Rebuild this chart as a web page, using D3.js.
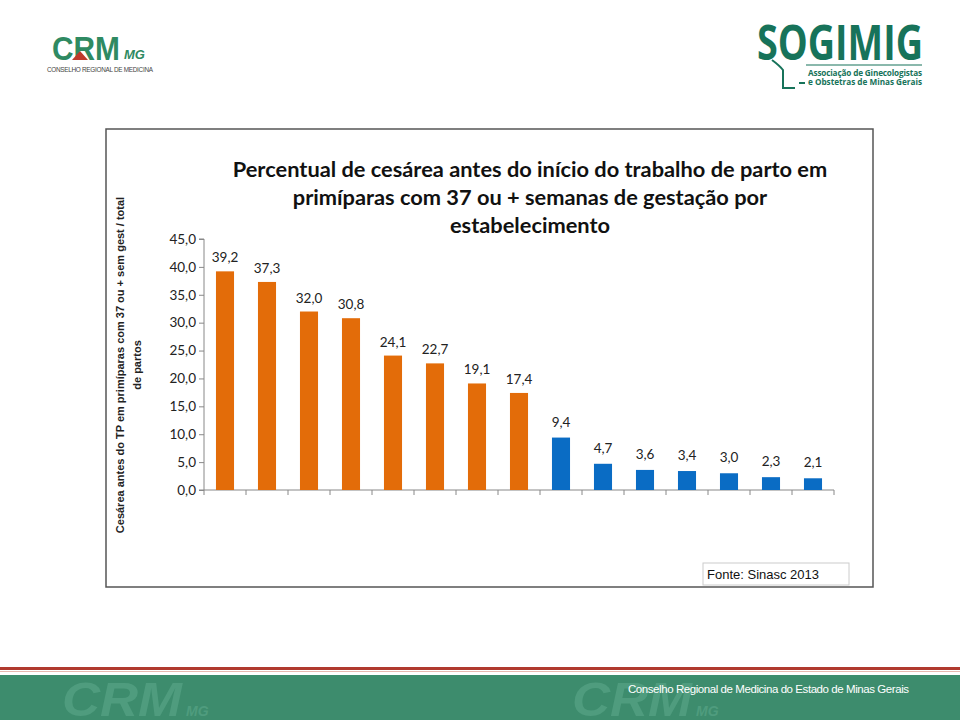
<!DOCTYPE html>
<html><head><meta charset="utf-8">
<script src="https://cdn.jsdelivr.net/npm/d3@7"></script>
<style>body{margin:0;background:#fff}svg{display:block}</style>
</head><body>
<script>
const categories = ["1","2","3","4","5","6","7","8","9","10","11","12","13","14","15"];
const values = [39.2,37.3,32.0,30.8,24.1,22.7,19.1,17.4,9.4,4.7,3.6,3.4,3.0,2.3,2.1];
const groups = ["o","o","o","o","o","o","o","o","b","b","b","b","b","b","b"];
const yTicks = [0,5,10,15,20,25,30,35,40,45];
const titleLines = ["Percentual de cesárea antes do início do trabalho de parto em","primíparas com 37 ou + semanas de gestação por","estabelecimento"];
const yLabelLines = ["Cesárea antes do TP em  primíparas com 37 ou + sem gest / total","de partos"];

const W=960,H=720;
const svg=d3.select("body").append("svg").attr("width",W).attr("height",H);
const fmt = v => d3.format(".1f")(v).replace(".",",");

// header logos (text approximations)
const crm=svg.append("g");
crm.append("text").attr("x",52).attr("y",60).attr("font-family","Liberation Sans, Arial").attr("font-weight","bold").attr("font-size",33).attr("fill","#2f8a62").attr("textLength",68).attr("lengthAdjust","spacingAndGlyphs").text("CRM");
crm.append("path").attr("d","M72,60 L80,51 L88,60 Z").attr("fill","#c0392b");
crm.append("text").attr("x",124).attr("y",59).attr("font-family","Liberation Sans, Arial").attr("font-weight","bold").attr("font-style","italic").attr("font-size",13).attr("fill","#2f8a62").text("MG");
crm.append("text").attr("x",47).attr("y",72).attr("font-family","Liberation Sans, Arial").attr("font-size",6.4).attr("fill","#444").attr("textLength",106).text("CONSELHO REGIONAL DE MEDICINA");

const sog=svg.append("g");
sog.append("text").attr("x",757).attr("y",60).attr("font-family","Open Sans, Liberation Sans").attr("font-weight","bold").attr("font-size",48).attr("fill","#17735a").attr("textLength",166).attr("lengthAdjust","spacingAndGlyphs").text("SOGIMIG");
sog.append("line").attr("x1",806).attr("x2",922).attr("y1",65).attr("y2",65).attr("stroke","#17735a").attr("stroke-width",1.2);
sog.append("text").attr("x",808).attr("y",76).attr("font-family","Open Sans, Liberation Sans").attr("font-weight","bold").attr("font-size",8.2).attr("fill","#17735a").attr("textLength",114).text("Associação de Ginecologistas");
sog.append("text").attr("x",808).attr("y",85).attr("font-family","Open Sans, Liberation Sans").attr("font-weight","bold").attr("font-size",8.2).attr("fill","#17735a").attr("textLength",114).text("e Obstetras de Minas Gerais");
sog.append("path").attr("d","M772,60 Q780,66 783,70 L783,88 L795,88 M799,83 L805,83").attr("stroke","#17735a").attr("stroke-width",2).attr("fill","none");

// chart frame
svg.append("rect").attr("x",106).attr("y",129).attr("width",767).attr("height",458).attr("fill","#fff").attr("stroke","#555").attr("stroke-width",1.5);

// title
const tt=svg.append("text").attr("text-anchor","middle").attr("font-family","Lato, Open Sans, sans-serif").attr("font-weight","bold").attr("font-size",21.8).attr("fill","#111");
titleLines.forEach((l,i)=>tt.append("tspan").attr("x",530).attr("y",177+i*28).text(l));

// scales
const x=d3.scaleBand().domain(categories).range([204,834]).paddingInner(0.57).paddingOuter(0.285);
const y=d3.scaleLinear().domain([0,45]).range([490,239]);

// y axis
const ya=svg.append("g").attr("transform","translate(204,0)").call(d3.axisLeft(y).tickValues(yTicks).tickSize(5).tickFormat(fmt));
ya.select(".domain").attr("stroke","#888").attr("d","M-5,239H0V490H-5");
ya.selectAll(".tick line").attr("stroke","#888");
ya.selectAll(".tick text").attr("font-family","Lato, Open Sans, sans-serif").attr("font-size",13.5).attr("fill","#222").attr("x",-8);

// x axis
const xTickPos = categories.map(c=>x(c)-x.step()*x.paddingInner()/2).concat([834]);
svg.append("line").attr("x1",204).attr("x2",834).attr("y1",490).attr("y2",490).attr("stroke","#888");
svg.selectAll(".xt").data(xTickPos).enter().append("line").attr("x1",d=>d).attr("x2",d=>d).attr("y1",490).attr("y2",495).attr("stroke","#888");

// bars
svg.selectAll(".bar").data(values).enter().append("rect")
 .attr("x",(d,i)=>x(categories[i])).attr("width",x.bandwidth())
 .attr("y",d=>y(d)).attr("height",d=>y(0)-y(d))
 .attr("fill",(d,i)=>groups[i]==="o"?"#e36c09":"#0a6cc4");

// value labels
svg.selectAll(".vl").data(values).enter().append("text")
 .attr("x",(d,i)=>x(categories[i])+x.bandwidth()/2).attr("y",(d,i)=>y(d)-(groups[i]==="o"?9:11))
 .attr("text-anchor","middle").attr("font-family","Lato, Open Sans, sans-serif").attr("font-size",13.5).attr("fill","#222")
 .text(fmt);

// y label
const yl=svg.append("text").attr("transform","translate(0,365) rotate(-90)").attr("text-anchor","middle").attr("font-family","Liberation Sans, Arial").attr("font-weight","bold").attr("font-size",11).attr("fill","#222");
yl.append("tspan").attr("x",0).attr("y",124).text(yLabelLines[0]);
yl.append("tspan").attr("x",0).attr("y",141).text(yLabelLines[1]);

// fonte box
svg.append("rect").attr("x",703).attr("y",563).attr("width",146).attr("height",22).attr("fill","#fff").attr("stroke","#ccc");
svg.append("text").attr("x",707).attr("y",579).attr("font-family","Liberation Sans, Arial").attr("font-size",13).attr("fill","#111").text("Fonte: Sinasc 2013");

// footer
svg.append("rect").attr("x",0).attr("y",667).attr("width",W).attr("height",3).attr("fill","#b03a2e");
svg.append("rect").attr("x",0).attr("y",671).attr("width",W).attr("height",1).attr("fill","#e8b8b0");
svg.append("rect").attr("x",0).attr("y",675).attr("width",W).attr("height",45).attr("fill","#3d8c6d");
[62,572].forEach(px=>{
 svg.append("text").attr("x",px).attr("y",716).attr("font-family","Liberation Sans, Arial").attr("font-weight","bold").attr("font-style","italic").attr("font-size",48).attr("fill","#4f9c7e").attr("textLength",120).attr("lengthAdjust","spacingAndGlyphs").text("CRM");
 svg.append("text").attr("x",px+124).attr("y",716).attr("font-family","Liberation Sans, Arial").attr("font-weight","bold").attr("font-style","italic").attr("font-size",14).attr("fill","#4f9c7e").text("MG");
});
svg.append("text").attr("x",628).attr("y",693).attr("font-family","Liberation Sans, Arial").attr("font-size",11.5).attr("fill","#fff").attr("textLength",281).text("Conselho Regional de Medicina do Estado de Minas Gerais");
</script>
</body></html>
